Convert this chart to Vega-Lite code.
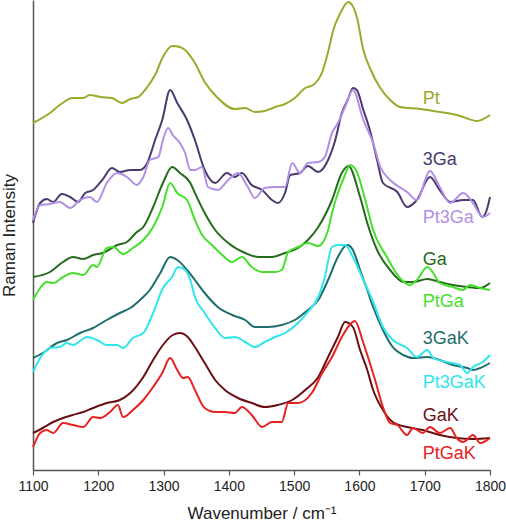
{
  "$schema": "https://vega.github.io/schema/vega-lite/v6.json",
  "width": 457,
  "height": 470,
  "autosize": {"type": "none"},
  "padding": {"left": 33, "top": 0, "right": 16, "bottom": 52},
  "background": "white",
  "config": {"view": {"stroke": null}, "font": "Liberation Sans"},
  "datasets": {
    "spectra": [
      {"s":"Pt","x":1100,"y":347},{"s":"Pt","x":1126,"y":357},{"s":"Pt","x":1141,"y":365},{"s":"Pt","x":1161,"y":372},{"s":"Pt","x":1177,"y":372},{"s":"Pt","x":1187,"y":375},{"s":"Pt","x":1203,"y":373},{"s":"Pt","x":1221,"y":372},{"s":"Pt","x":1236,"y":367},{"s":"Pt","x":1249,"y":371},{"s":"Pt","x":1261,"y":373},{"s":"Pt","x":1275,"y":383},{"s":"Pt","x":1287,"y":395},{"s":"Pt","x":1299,"y":413},{"s":"Pt","x":1313,"y":424},{"s":"Pt","x":1325,"y":423},{"s":"Pt","x":1333,"y":420},{"s":"Pt","x":1348,"y":407},{"s":"Pt","x":1363,"y":388},{"s":"Pt","x":1383,"y":372},{"s":"Pt","x":1409,"y":361},{"s":"Pt","x":1425,"y":362},{"s":"Pt","x":1440,"y":358},{"s":"Pt","x":1455,"y":359},{"s":"Pt","x":1471,"y":363},{"s":"Pt","x":1486,"y":366},{"s":"Pt","x":1501,"y":372},{"s":"Pt","x":1517,"y":382},{"s":"Pt","x":1529,"y":385},{"s":"Pt","x":1543,"y":398},{"s":"Pt","x":1552,"y":418},{"s":"Pt","x":1560,"y":440},{"s":"Pt","x":1570,"y":456},{"s":"Pt","x":1583,"y":468},{"s":"Pt","x":1596,"y":453},{"s":"Pt","x":1606,"y":420},{"s":"Pt","x":1616,"y":402},{"s":"Pt","x":1632,"y":382},{"s":"Pt","x":1647,"y":370},{"s":"Pt","x":1662,"y":363},{"s":"Pt","x":1693,"y":361},{"s":"Pt","x":1723,"y":358},{"s":"Pt","x":1749,"y":355},{"s":"Pt","x":1759,"y":353},{"s":"Pt","x":1780,"y":349},{"s":"Pt","x":1800,"y":355},

      {"s":"3Ga","x":1100,"y":247},{"s":"3Ga","x":1111,"y":267},{"s":"3Ga","x":1121,"y":271},{"s":"3Ga","x":1131,"y":268},{"s":"3Ga","x":1144,"y":276},{"s":"3Ga","x":1157,"y":273},{"s":"3Ga","x":1169,"y":268},{"s":"3Ga","x":1180,"y":277},{"s":"3Ga","x":1192,"y":280},{"s":"3Ga","x":1206,"y":290},{"s":"3Ga","x":1221,"y":302},{"s":"3Ga","x":1233,"y":298},{"s":"3Ga","x":1249,"y":300},{"s":"3Ga","x":1264,"y":300},{"s":"3Ga","x":1275,"y":307},{"s":"3Ga","x":1287,"y":330},{"s":"3Ga","x":1298,"y":350},{"s":"3Ga","x":1310,"y":380},{"s":"3Ga","x":1321,"y":367},{"s":"3Ga","x":1336,"y":350},{"s":"3Ga","x":1348,"y":330},{"s":"3Ga","x":1363,"y":300},{"s":"3Ga","x":1379,"y":287},{"s":"3Ga","x":1397,"y":297},{"s":"3Ga","x":1409,"y":293},{"s":"3Ga","x":1420,"y":297},{"s":"3Ga","x":1435,"y":285},{"s":"3Ga","x":1451,"y":280},{"s":"3Ga","x":1466,"y":270},{"s":"3Ga","x":1475,"y":267},{"s":"3Ga","x":1486,"y":277},{"s":"3Ga","x":1494,"y":295},{"s":"3Ga","x":1509,"y":297},{"s":"3Ga","x":1521,"y":304},{"s":"3Ga","x":1537,"y":298},{"s":"3Ga","x":1552,"y":310},{"s":"3Ga","x":1563,"y":330},{"s":"3Ga","x":1573,"y":357},{"s":"3Ga","x":1582,"y":370},{"s":"3Ga","x":1590,"y":382},{"s":"3Ga","x":1596,"y":380},{"s":"3Ga","x":1606,"y":360},{"s":"3Ga","x":1616,"y":340},{"s":"3Ga","x":1627,"y":310},{"s":"3Ga","x":1636,"y":287},{"s":"3Ga","x":1658,"y":278},{"s":"3Ga","x":1673,"y":263},{"s":"3Ga","x":1688,"y":270},{"s":"3Ga","x":1708,"y":293},{"s":"3Ga","x":1723,"y":280},{"s":"3Ga","x":1739,"y":268},{"s":"3Ga","x":1759,"y":270},{"s":"3Ga","x":1774,"y":270},{"s":"3Ga","x":1788,"y":253},{"s":"3Ga","x":1795,"y":260},{"s":"3Ga","x":1800,"y":273},

      {"s":"Pt3Ga","x":1100,"y":250},{"s":"Pt3Ga","x":1111,"y":265},{"s":"Pt3Ga","x":1126,"y":266},{"s":"Pt3Ga","x":1141,"y":268},{"s":"Pt3Ga","x":1157,"y":262},{"s":"Pt3Ga","x":1172,"y":270},{"s":"Pt3Ga","x":1187,"y":273},{"s":"Pt3Ga","x":1198,"y":268},{"s":"Pt3Ga","x":1213,"y":287},{"s":"Pt3Ga","x":1229,"y":297},{"s":"Pt3Ga","x":1244,"y":293},{"s":"Pt3Ga","x":1259,"y":285},{"s":"Pt3Ga","x":1269,"y":293},{"s":"Pt3Ga","x":1279,"y":310},{"s":"Pt3Ga","x":1292,"y":313},{"s":"Pt3Ga","x":1299,"y":330},{"s":"Pt3Ga","x":1307,"y":342},{"s":"Pt3Ga","x":1314,"y":335},{"s":"Pt3Ga","x":1325,"y":327},{"s":"Pt3Ga","x":1333,"y":317},{"s":"Pt3Ga","x":1341,"y":300},{"s":"Pt3Ga","x":1348,"y":300},{"s":"Pt3Ga","x":1359,"y":303},{"s":"Pt3Ga","x":1368,"y":283},{"s":"Pt3Ga","x":1383,"y":280},{"s":"Pt3Ga","x":1399,"y":290},{"s":"Pt3Ga","x":1414,"y":297},{"s":"Pt3Ga","x":1429,"y":283},{"s":"Pt3Ga","x":1440,"y":272},{"s":"Pt3Ga","x":1455,"y":282},{"s":"Pt3Ga","x":1471,"y":283},{"s":"Pt3Ga","x":1486,"y":283},{"s":"Pt3Ga","x":1497,"y":307},{"s":"Pt3Ga","x":1509,"y":297},{"s":"Pt3Ga","x":1521,"y":307},{"s":"Pt3Ga","x":1537,"y":308},{"s":"Pt3Ga","x":1547,"y":313},{"s":"Pt3Ga","x":1558,"y":337},{"s":"Pt3Ga","x":1567,"y":347},{"s":"Pt3Ga","x":1578,"y":363},{"s":"Pt3Ga","x":1590,"y":380},{"s":"Pt3Ga","x":1606,"y":350},{"s":"Pt3Ga","x":1621,"y":327},{"s":"Pt3Ga","x":1632,"y":303},{"s":"Pt3Ga","x":1647,"y":290},{"s":"Pt3Ga","x":1673,"y":278},{"s":"Pt3Ga","x":1688,"y":270},{"s":"Pt3Ga","x":1708,"y":299},{"s":"Pt3Ga","x":1723,"y":283},{"s":"Pt3Ga","x":1739,"y":267},{"s":"Pt3Ga","x":1759,"y":277},{"s":"Pt3Ga","x":1774,"y":267},{"s":"Pt3Ga","x":1789,"y":253},{"s":"Pt3Ga","x":1800,"y":257},

      {"s":"Ga","x":1100,"y":193},{"s":"Ga","x":1126,"y":198},{"s":"Ga","x":1146,"y":208},{"s":"Ga","x":1161,"y":213},{"s":"Ga","x":1177,"y":211},{"s":"Ga","x":1192,"y":215},{"s":"Ga","x":1207,"y":217},{"s":"Ga","x":1229,"y":225},{"s":"Ga","x":1244,"y":228},{"s":"Ga","x":1259,"y":238},{"s":"Ga","x":1269,"y":243},{"s":"Ga","x":1284,"y":263},{"s":"Ga","x":1299,"y":287},{"s":"Ga","x":1313,"y":303},{"s":"Ga","x":1325,"y":297},{"s":"Ga","x":1341,"y":287},{"s":"Ga","x":1348,"y":277},{"s":"Ga","x":1363,"y":257},{"s":"Ga","x":1379,"y":240},{"s":"Ga","x":1399,"y":227},{"s":"Ga","x":1425,"y":217},{"s":"Ga","x":1445,"y":213},{"s":"Ga","x":1466,"y":213},{"s":"Ga","x":1486,"y":217},{"s":"Ga","x":1506,"y":222},{"s":"Ga","x":1521,"y":230},{"s":"Ga","x":1537,"y":243},{"s":"Ga","x":1558,"y":270},{"s":"Ga","x":1573,"y":297},{"s":"Ga","x":1583,"y":304},{"s":"Ga","x":1601,"y":273},{"s":"Ga","x":1612,"y":247},{"s":"Ga","x":1627,"y":220},{"s":"Ga","x":1647,"y":200},{"s":"Ga","x":1667,"y":188},{"s":"Ga","x":1682,"y":188},{"s":"Ga","x":1704,"y":191},{"s":"Ga","x":1723,"y":188},{"s":"Ga","x":1743,"y":185},{"s":"Ga","x":1765,"y":183},{"s":"Ga","x":1785,"y":182},{"s":"Ga","x":1800,"y":187},

      {"s":"PtGa","x":1100,"y":170},{"s":"PtGa","x":1111,"y":182},{"s":"PtGa","x":1121,"y":188},{"s":"PtGa","x":1131,"y":187},{"s":"PtGa","x":1146,"y":193},{"s":"PtGa","x":1161,"y":197},{"s":"PtGa","x":1177,"y":195},{"s":"PtGa","x":1192,"y":205},{"s":"PtGa","x":1198,"y":203},{"s":"PtGa","x":1213,"y":222},{"s":"PtGa","x":1223,"y":223},{"s":"PtGa","x":1238,"y":216},{"s":"PtGa","x":1253,"y":222},{"s":"PtGa","x":1269,"y":230},{"s":"PtGa","x":1284,"y":243},{"s":"PtGa","x":1298,"y":263},{"s":"PtGa","x":1310,"y":287},{"s":"PtGa","x":1321,"y":277},{"s":"PtGa","x":1336,"y":270},{"s":"PtGa","x":1348,"y":250},{"s":"PtGa","x":1359,"y":235},{"s":"PtGa","x":1374,"y":225},{"s":"PtGa","x":1390,"y":215},{"s":"PtGa","x":1405,"y":208},{"s":"PtGa","x":1420,"y":213},{"s":"PtGa","x":1435,"y":203},{"s":"PtGa","x":1451,"y":198},{"s":"PtGa","x":1471,"y":198},{"s":"PtGa","x":1481,"y":200},{"s":"PtGa","x":1491,"y":218},{"s":"PtGa","x":1506,"y":223},{"s":"PtGa","x":1521,"y":227},{"s":"PtGa","x":1537,"y":224},{"s":"PtGa","x":1552,"y":240},{"s":"PtGa","x":1558,"y":257},{"s":"PtGa","x":1567,"y":277},{"s":"PtGa","x":1576,"y":292},{"s":"PtGa","x":1586,"y":305},{"s":"PtGa","x":1596,"y":298},{"s":"PtGa","x":1609,"y":270},{"s":"PtGa","x":1621,"y":240},{"s":"PtGa","x":1642,"y":213},{"s":"PtGa","x":1662,"y":192},{"s":"PtGa","x":1677,"y":185},{"s":"PtGa","x":1688,"y":190},{"s":"PtGa","x":1704,"y":203},{"s":"PtGa","x":1713,"y":197},{"s":"PtGa","x":1723,"y":187},{"s":"PtGa","x":1743,"y":183},{"s":"PtGa","x":1759,"y":180},{"s":"PtGa","x":1769,"y":185},{"s":"PtGa","x":1785,"y":182},{"s":"PtGa","x":1800,"y":180},

      {"s":"3GaK","x":1100,"y":112},{"s":"3GaK","x":1115,"y":117},{"s":"3GaK","x":1137,"y":127},{"s":"3GaK","x":1152,"y":130},{"s":"3GaK","x":1172,"y":137},{"s":"3GaK","x":1192,"y":142},{"s":"3GaK","x":1213,"y":150},{"s":"3GaK","x":1233,"y":157},{"s":"3GaK","x":1249,"y":162},{"s":"3GaK","x":1264,"y":170},{"s":"3GaK","x":1279,"y":180},{"s":"3GaK","x":1295,"y":197},{"s":"3GaK","x":1310,"y":213},{"s":"3GaK","x":1321,"y":210},{"s":"3GaK","x":1336,"y":200},{"s":"3GaK","x":1348,"y":190},{"s":"3GaK","x":1363,"y":177},{"s":"3GaK","x":1383,"y":163},{"s":"3GaK","x":1405,"y":155},{"s":"3GaK","x":1425,"y":150},{"s":"3GaK","x":1440,"y":143},{"s":"3GaK","x":1460,"y":143},{"s":"3GaK","x":1481,"y":145},{"s":"3GaK","x":1501,"y":150},{"s":"3GaK","x":1521,"y":160},{"s":"3GaK","x":1537,"y":170},{"s":"3GaK","x":1552,"y":190},{"s":"3GaK","x":1567,"y":213},{"s":"3GaK","x":1581,"y":225},{"s":"3GaK","x":1590,"y":220},{"s":"3GaK","x":1601,"y":200},{"s":"3GaK","x":1612,"y":180},{"s":"3GaK","x":1621,"y":163},{"s":"3GaK","x":1636,"y":140},{"s":"3GaK","x":1651,"y":123},{"s":"3GaK","x":1667,"y":115},{"s":"3GaK","x":1682,"y":112},{"s":"3GaK","x":1704,"y":113},{"s":"3GaK","x":1723,"y":110},{"s":"3GaK","x":1743,"y":105},{"s":"3GaK","x":1765,"y":102},{"s":"3GaK","x":1774,"y":100},{"s":"3GaK","x":1785,"y":102},{"s":"3GaK","x":1800,"y":107},

      {"s":"Pt3GaK","x":1100,"y":98},{"s":"Pt3GaK","x":1111,"y":112},{"s":"Pt3GaK","x":1126,"y":122},{"s":"Pt3GaK","x":1141,"y":123},{"s":"Pt3GaK","x":1152,"y":127},{"s":"Pt3GaK","x":1161,"y":125},{"s":"Pt3GaK","x":1183,"y":133},{"s":"Pt3GaK","x":1198,"y":130},{"s":"Pt3GaK","x":1213,"y":125},{"s":"Pt3GaK","x":1229,"y":125},{"s":"Pt3GaK","x":1238,"y":122},{"s":"Pt3GaK","x":1253,"y":132},{"s":"Pt3GaK","x":1269,"y":137},{"s":"Pt3GaK","x":1284,"y":157},{"s":"Pt3GaK","x":1299,"y":182},{"s":"Pt3GaK","x":1313,"y":193},{"s":"Pt3GaK","x":1322,"y":203},{"s":"Pt3GaK","x":1333,"y":200},{"s":"Pt3GaK","x":1341,"y":190},{"s":"Pt3GaK","x":1348,"y":173},{"s":"Pt3GaK","x":1363,"y":157},{"s":"Pt3GaK","x":1379,"y":142},{"s":"Pt3GaK","x":1394,"y":132},{"s":"Pt3GaK","x":1409,"y":133},{"s":"Pt3GaK","x":1425,"y":128},{"s":"Pt3GaK","x":1440,"y":123},{"s":"Pt3GaK","x":1455,"y":128},{"s":"Pt3GaK","x":1471,"y":133},{"s":"Pt3GaK","x":1486,"y":137},{"s":"Pt3GaK","x":1506,"y":147},{"s":"Pt3GaK","x":1521,"y":158},{"s":"Pt3GaK","x":1537,"y":173},{"s":"Pt3GaK","x":1547,"y":193},{"s":"Pt3GaK","x":1558,"y":223},{"s":"Pt3GaK","x":1567,"y":225},{"s":"Pt3GaK","x":1578,"y":225},{"s":"Pt3GaK","x":1590,"y":213},{"s":"Pt3GaK","x":1606,"y":190},{"s":"Pt3GaK","x":1621,"y":168},{"s":"Pt3GaK","x":1636,"y":143},{"s":"Pt3GaK","x":1651,"y":130},{"s":"Pt3GaK","x":1673,"y":122},{"s":"Pt3GaK","x":1688,"y":113},{"s":"Pt3GaK","x":1704,"y":120},{"s":"Pt3GaK","x":1713,"y":112},{"s":"Pt3GaK","x":1734,"y":108},{"s":"Pt3GaK","x":1754,"y":105},{"s":"Pt3GaK","x":1765,"y":97},{"s":"Pt3GaK","x":1774,"y":103},{"s":"Pt3GaK","x":1789,"y":108},{"s":"Pt3GaK","x":1800,"y":115},

      {"s":"GaK","x":1100,"y":37},{"s":"GaK","x":1115,"y":42},{"s":"GaK","x":1131,"y":48},{"s":"GaK","x":1146,"y":52},{"s":"GaK","x":1161,"y":55},{"s":"GaK","x":1177,"y":58},{"s":"GaK","x":1192,"y":62},{"s":"GaK","x":1213,"y":67},{"s":"GaK","x":1233,"y":70},{"s":"GaK","x":1249,"y":77},{"s":"GaK","x":1269,"y":93},{"s":"GaK","x":1284,"y":110},{"s":"GaK","x":1299,"y":125},{"s":"GaK","x":1314,"y":135},{"s":"GaK","x":1325,"y":137},{"s":"GaK","x":1337,"y":133},{"s":"GaK","x":1348,"y":123},{"s":"GaK","x":1363,"y":107},{"s":"GaK","x":1379,"y":90},{"s":"GaK","x":1394,"y":80},{"s":"GaK","x":1414,"y":72},{"s":"GaK","x":1435,"y":67},{"s":"GaK","x":1455,"y":63},{"s":"GaK","x":1475,"y":65},{"s":"GaK","x":1497,"y":70},{"s":"GaK","x":1517,"y":80},{"s":"GaK","x":1537,"y":93},{"s":"GaK","x":1552,"y":113},{"s":"GaK","x":1567,"y":133},{"s":"GaK","x":1578,"y":148},{"s":"GaK","x":1590,"y":143},{"s":"GaK","x":1601,"y":120},{"s":"GaK","x":1612,"y":100},{"s":"GaK","x":1621,"y":80},{"s":"GaK","x":1636,"y":60},{"s":"GaK","x":1651,"y":48},{"s":"GaK","x":1673,"y":43},{"s":"GaK","x":1697,"y":40},{"s":"GaK","x":1723,"y":35},{"s":"GaK","x":1749,"y":32},{"s":"GaK","x":1774,"y":31},{"s":"GaK","x":1800,"y":32},

      {"s":"PtGaK","x":1100,"y":23},{"s":"PtGaK","x":1111,"y":37},{"s":"PtGaK","x":1121,"y":40},{"s":"PtGaK","x":1131,"y":37},{"s":"PtGaK","x":1146,"y":47},{"s":"PtGaK","x":1161,"y":45},{"s":"PtGaK","x":1177,"y":43},{"s":"PtGaK","x":1192,"y":53},{"s":"PtGaK","x":1203,"y":52},{"s":"PtGaK","x":1218,"y":58},{"s":"PtGaK","x":1230,"y":65},{"s":"PtGaK","x":1238,"y":53},{"s":"PtGaK","x":1253,"y":60},{"s":"PtGaK","x":1269,"y":70},{"s":"PtGaK","x":1284,"y":83},{"s":"PtGaK","x":1298,"y":97},{"s":"PtGaK","x":1310,"y":112},{"s":"PtGaK","x":1321,"y":100},{"s":"PtGaK","x":1330,"y":92},{"s":"PtGaK","x":1337,"y":93},{"s":"PtGaK","x":1348,"y":80},{"s":"PtGaK","x":1363,"y":62},{"s":"PtGaK","x":1379,"y":58},{"s":"PtGaK","x":1394,"y":58},{"s":"PtGaK","x":1409,"y":57},{"s":"PtGaK","x":1420,"y":63},{"s":"PtGaK","x":1435,"y":55},{"s":"PtGaK","x":1451,"y":43},{"s":"PtGaK","x":1466,"y":48},{"s":"PtGaK","x":1481,"y":48},{"s":"PtGaK","x":1491,"y":67},{"s":"PtGaK","x":1506,"y":67},{"s":"PtGaK","x":1527,"y":77},{"s":"PtGaK","x":1543,"y":97},{"s":"PtGaK","x":1558,"y":113},{"s":"PtGaK","x":1573,"y":133},{"s":"PtGaK","x":1585,"y":145},{"s":"PtGaK","x":1593,"y":149},{"s":"PtGaK","x":1606,"y":127},{"s":"PtGaK","x":1616,"y":107},{"s":"PtGaK","x":1624,"y":90},{"s":"PtGaK","x":1636,"y":63},{"s":"PtGaK","x":1647,"y":47},{"s":"PtGaK","x":1658,"y":45},{"s":"PtGaK","x":1673,"y":35},{"s":"PtGaK","x":1682,"y":42},{"s":"PtGaK","x":1697,"y":37},{"s":"PtGaK","x":1708,"y":43},{"s":"PtGaK","x":1723,"y":37},{"s":"PtGaK","x":1739,"y":42},{"s":"PtGaK","x":1749,"y":32},{"s":"PtGaK","x":1759,"y":28},{"s":"PtGaK","x":1774,"y":35},{"s":"PtGaK","x":1785,"y":27},{"s":"PtGaK","x":1800,"y":32}
    ],
    "labels": [
      {"s":"Pt","x":1697,"y":371},
      {"s":"3Ga","x":1697,"y":310},
      {"s":"Pt3Ga","x":1697,"y":252},
      {"s":"Ga","x":1697,"y":210},
      {"s":"PtGa","x":1697,"y":168},
      {"s":"3GaK","x":1697,"y":131},
      {"s":"Pt3GaK","x":1697,"y":87},
      {"s":"GaK","x":1697,"y":54},
      {"s":"PtGaK","x":1697,"y":16}
    ]
  },
  "layer": [
    {
      "data": {"name": "spectra"},
      "mark": {"type": "line", "strokeWidth": 2, "interpolate": "monotone"},
      "encoding": {
        "x": {
          "field": "x", "type": "quantitative",
          "scale": {"domain": [1100, 1800], "nice": false, "zero": false},
          "axis": {
            "title": "Wavenumber / cm⁻¹",
            "values": [1100,1150,1200,1250,1300,1350,1400,1450,1500,1550,1600,1650,1700,1750,1800],
            "labelExpr": "datum.value % 100 == 0 ? datum.label : ''",
            "format": "d",
            "labelFlush": false,
            "labelBound": false,
            "labelOverlap": false,
            "grid": false,
            "domainColor": "#555555", "domainWidth": 1.5,
            "tickColor": "#555555", "tickWidth": 1.2, "tickSize": 5,
            "labelFont": "Liberation Sans", "labelFontSize": 14, "labelColor": "#222222", "labelPadding": 4,
            "titleFont": "Liberation Sans", "titleFontSize": 17, "titleFontWeight": "normal", "titleColor": "#222222", "titlePadding": 12
          }
        },
        "y": {
          "field": "y", "type": "quantitative",
          "scale": {"domain": [0, 470], "nice": false, "zero": false},
          "axis": {
            "title": "Raman Intensity",
            "ticks": false, "labels": false, "grid": false,
            "domainColor": "#555555", "domainWidth": 1.5,
            "titleFont": "Liberation Sans", "titleFontSize": 17, "titleFontWeight": "normal", "titleColor": "#222222", "titlePadding": 15
          }
        },
        "color": {
          "field": "s", "type": "nominal",
          "scale": {
            "domain": ["Pt","3Ga","Pt3Ga","Ga","PtGa","3GaK","Pt3GaK","GaK","PtGaK"],
            "range": ["#9BAA2B","#4A3A6E","#B28FE6","#256B1D","#45E02B","#1F6E6B","#2FE6EC","#6A1015","#E8201F"]
          },
          "legend": null
        },
        "detail": {"field": "s"}
      }
    },
    {
      "data": {"name": "labels"},
      "mark": {"type": "text", "align": "left", "baseline": "middle", "font": "Liberation Sans", "fontSize": 18},
      "encoding": {
        "x": {"field": "x", "type": "quantitative"},
        "y": {"field": "y", "type": "quantitative"},
        "text": {"field": "s"},
        "color": {"field": "s", "type": "nominal"}
      }
    }
  ]
}
